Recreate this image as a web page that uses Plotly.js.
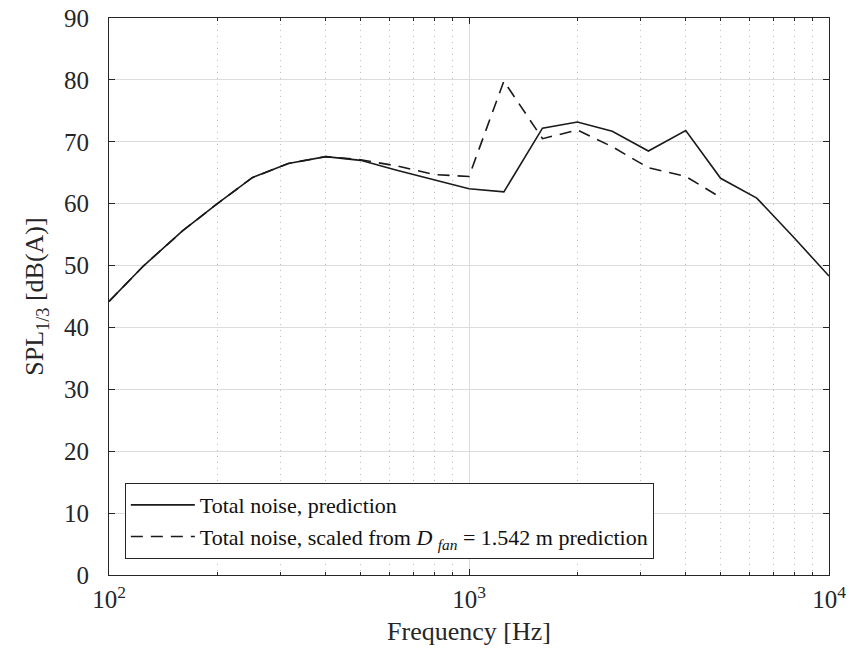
<!DOCTYPE html>
<html>
<head>
<meta charset="utf-8">
<script src="https://cdn.plot.ly/plotly-3.0.1.min.js"></script>
<style>html,body{margin:0;padding:0;background:#fff;}</style>
</head>
<body>
<div id="chart" style="width:859px;height:664px;"></div>
<script>
const freq = [100,125,160,200,250,315,400,500,630,800,1000,1250,1600,2000,2500,3150,4000,5000,6300,8000,10000];
const splPrediction = [44.2,50.0,55.6,60.0,64.2,66.5,67.6,67.0,65.4,63.8,62.4,61.9,72.2,73.2,71.7,68.5,71.8,64.1,60.9,54.5,48.3];
const freqScaled = [100,125,160,200,250,315,400,500,630,800,1000,1250,1600,2000,2500,3150,4000,5000];
const splScaled = [44.2,50.0,55.6,60.0,64.2,66.5,67.6,67.1,66.1,64.7,64.4,79.8,70.5,71.9,69.2,65.8,64.4,61.0];
const xTickVals = [100,1000,10000];
const xTickText = ['10<sup>2</sup>','10<sup>3</sup>','10<sup>4</sup>'];
const yTickVals = [0,10,20,30,40,50,60,70,80,90];

const font = 'Liberation Serif, Times New Roman, serif';
const traces = [
  {x: freq, y: splPrediction, type:'scatter', mode:'lines', name:'Total noise, prediction',
   line:{color:'#1a1a1a', width:1.6}},
  {x: freqScaled, y: splScaled, type:'scatter', mode:'lines',
   name:'Total noise, scaled from <i>D</i> <sub><i>fan</i></sub> = 1.542 m prediction',
   line:{color:'#1a1a1a', width:1.6, dash:'12px,8px'}}
];
const layout = {
  width:859, height:664,
  margin:{l:109, r:30, t:18, b:89},
  paper_bgcolor:'#fff', plot_bgcolor:'#fff',
  font:{family:font, color:'#262626', size:25},
  showlegend:true,
  legend:{x:0.022, y:0.165, xanchor:'left', yanchor:'top', bgcolor:'#fff',
    bordercolor:'#262626', borderwidth:1, font:{family:font, size:22, color:'#111'},
    tracegroupgap:0, itemwidth:64},
  xaxis:{type:'log', range:[2,4], tickvals:xTickVals, ticktext:xTickText,
    showline:true, linecolor:'#262626', linewidth:1, mirror:'ticks',
    ticks:'inside', ticklen:6, tickcolor:'#262626', ticklabelstandoff:2,
    showgrid:true, gridcolor:'#dcdcdc', gridwidth:1, zeroline:false,
    minor:{dtick:'D1', showgrid:true, gridcolor:'#bdbdbd', griddash:'1px,5px', gridwidth:1,
      ticks:'inside', ticklen:3, tickcolor:'#262626'},
    title:{text:'Frequency [Hz]', font:{family:font, size:26, color:'#262626'}, standoff:9},
    tickfont:{family:font, size:25}},
  yaxis:{range:[0,90], tickvals:yTickVals,
    showline:true, linecolor:'#262626', linewidth:1, mirror:'ticks',
    ticks:'inside', ticklen:6, tickcolor:'#262626', ticklabelstandoff:14,
    showgrid:true, gridcolor:'#dcdcdc', gridwidth:1, zeroline:false,
    title:{text:'SPL<sub>1/3</sub> [dB(A)]', font:{family:font, size:26, color:'#262626'}, standoff:12},
    tickfont:{family:font, size:25}}
};
Plotly.newPlot('chart', traces, layout, {staticPlot:true, displayModeBar:false});
</script>
</body>
</html>
